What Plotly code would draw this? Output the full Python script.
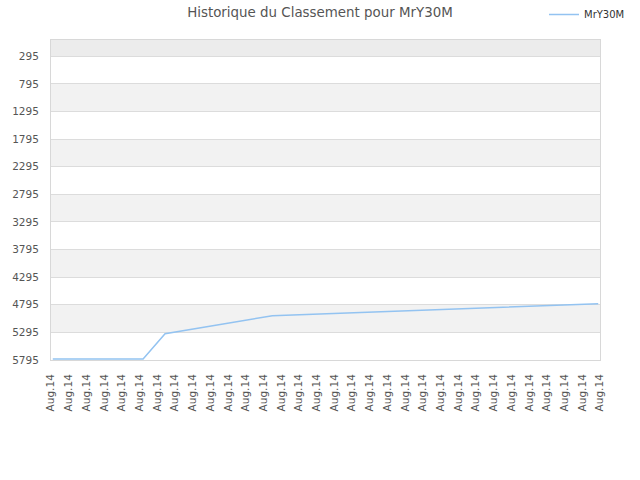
import plotly.graph_objects as go

# ---- data ----
tick_labels = ["Aug.14"] * 32
point_pos = [0.1, 5.2, 6.44, 12.5, 30.9]          # position along the time axis (tick index units)
ranks = [5778, 5778, 5320, 4994, 4775]
y_ticks = [295, 795, 1295, 1795, 2295, 2795, 3295, 3795, 4295, 4795, 5295, 5795]
series_name = "MrY30M"
title = "Historique du Classement pour MrY30M"

fig = go.Figure()
fig.add_trace(go.Scatter(
    x=point_pos, y=ranks, mode="lines", name=series_name,
    line=dict(color="#93c3f1", width=1.5),
))

# alternating bands
shapes = [dict(type="rect", xref="paper", yref="y", x0=0, x1=1, y0=0, y1=y_ticks[0],
               fillcolor="#ececec", line_width=0, layer="below")]
for i in range(1, len(y_ticks) - 1, 2):
    shapes.append(dict(type="rect", xref="paper", yref="y", x0=0, x1=1,
                       y0=y_ticks[i], y1=y_ticks[i + 1],
                       fillcolor="#f2f2f2", line_width=0, layer="below"))

fig.update_layout(
    width=640, height=480,
    margin=dict(l=51, r=40, t=40, b=120, autoexpand=False),
    paper_bgcolor="white", plot_bgcolor="white",
    font=dict(family="DejaVu Sans", size=10, color="#555"),
    title=dict(text=title, x=0.5, xanchor="center", xref="container",
               yref="container", y=1 - 12 / 480, yanchor="middle",
               font=dict(size=13.4, color="#555")),
    shapes=shapes,
    showlegend=True,
    legend=dict(xref="container", yref="container", x=630 / 640, xanchor="right",
                y=1 + 1 / 480, yanchor="top", font=dict(size=10, color="#333"),
                itemwidth=30, bgcolor="rgba(0,0,0,0)"),
    xaxis=dict(range=[0, len(tick_labels) - 1], tickmode="array",
               tickvals=list(range(len(tick_labels))), ticktext=tick_labels,
               tickangle=-90, showgrid=False, zeroline=False,
               showline=True, linecolor="#d8d8d8", mirror=True, ticks="",
               ticklabelstandoff=9,
               tickfont=dict(size=10.5, color="#555")),
    yaxis=dict(range=[5795, 0], tickmode="array", tickvals=y_ticks,
               showgrid=True, gridcolor="#dcdcdc", zeroline=False,
               showline=True, linecolor="#d8d8d8", mirror=True, ticks="",
               ticklabelstandoff=9,
               tickfont=dict(size=10.5, color="#555")),
)

fig.write_html("out.html", config={"displayModeBar": False},
               post_script="document.body.style.margin='0';")
